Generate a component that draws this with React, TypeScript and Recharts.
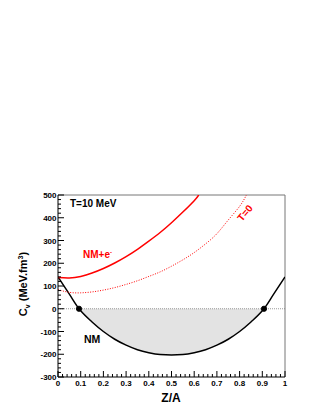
import React from 'react';
import {
  ComposedChart,
  Line,
  Area,
  XAxis,
  YAxis,
  ReferenceLine,
  ReferenceDot,
} from 'recharts';

// Z/A grid for the nuclear-matter curve (roots included)
const nmX = [0, 0.05, 0.0925, 0.1, 0.15, 0.2, 0.25, 0.3, 0.35, 0.4, 0.45, 0.5, 0.55, 0.6, 0.65, 0.7, 0.75, 0.8, 0.85, 0.9, 0.9075, 0.95, 1];
const nmY = [140, 64, 0, -9, -58, -100, -134, -160, -180, -193, -201, -203, -201, -193, -180, -160, -134, -100, -58, -9, 0, 64, 140];

// NM + electrons, T=10 MeV (solid red)
const eX = [0, 0.05, 0.1, 0.15, 0.2, 0.25, 0.3, 0.35, 0.4, 0.45, 0.5, 0.55, 0.6, 0.62];
const eY = [137, 135, 142, 157, 177, 201, 229, 261, 297, 335, 378, 425, 475, 500];

// NM + electrons, T=0 (dotted red)
const t0X = [0, 0.05, 0.1, 0.15, 0.2, 0.25, 0.3, 0.35, 0.4, 0.45, 0.5, 0.55, 0.6, 0.65, 0.7, 0.75, 0.8, 0.83];
const t0Y = [84, 72, 70, 74, 82, 93, 107, 123, 142, 162, 187, 215, 247, 285, 330, 390, 450, 500];

const roots = [0.0925, 0.9075];

const xMajor = [0, 0.1, 0.2, 0.3, 0.4, 0.5, 0.6, 0.7, 0.8, 0.9, 1];
const yMajor = [-300, -200, -100, 0, 100, 200, 300, 400, 500];

const xTicks = Array.from({ length: 51 }, (_, i) => i / 50);
const yTicks = Array.from({ length: 41 }, (_, i) => -300 + i * 20);

const FONT = '"Liberation Sans", Arial, Helvetica, sans-serif';

const nmData = nmX.map((x, i) => ({ x, nm: nmY[i], shade: Math.min(nmY[i], 0) }));
const eData = eX.map((x, i) => ({ x, v: eY[i] }));
const t0Data = t0X.map((x, i) => ({ x, v: t0Y[i] }));

const isMajorX = (v: number) => xMajor.some((m) => Math.abs(m - v) < 1e-6);

const XTick = (props: any) => {
  const { x, y, payload } = props;
  const major = isMajorX(payload.value);
  return (
    <g>
      <line x1={x} x2={x} y1={y} y2={y - (major ? 6 : 3)} stroke="#000" strokeWidth={1} />
      {major && (
        <text x={x} y={y + 9} textAnchor="middle" fontSize={8} fontWeight="bold" fontFamily={FONT} fill="#000">
          {Number(payload.value.toFixed(1)).toString()}
        </text>
      )}
    </g>
  );
};

const YTick = (props: any) => {
  const { x, y, payload } = props;
  const major = yMajor.includes(payload.value);
  return (
    <g>
      <line x1={x} x2={x + (major ? 6 : 3)} y1={y} y2={y} stroke="#000" strokeWidth={1} />
      {major && (
        <text x={x - 1.5} y={y + 3} textAnchor="end" fontSize={8} fontWeight="bold" fontFamily={FONT} fill="#000">
          {payload.value}
        </text>
      )}
    </g>
  );
};

export default function App() {
  return (
    <div style={{ position: 'absolute', left: 0, top: 0, width: 316, height: 409, background: '#fff' }}>
      <ComposedChart
        width={316}
        height={409}
        data={nmData}
        margin={{ top: 195, right: 31, bottom: 0, left: 0 }}
      >
        <XAxis
          dataKey="x"
          type="number"
          domain={[0, 1]}
          ticks={xTicks}
          interval={0}
          tickSize={0}
          tickMargin={0}
          tickLine={false}
          tick={<XTick />}
          axisLine={{ stroke: '#000', strokeWidth: 1 }}
          height={32}
          allowDataOverflow
        />
        <YAxis
          type="number"
          domain={[-300, 500]}
          ticks={yTicks}
          interval={0}
          tickSize={0}
          tickMargin={0}
          tickLine={false}
          tick={<YTick />}
          axisLine={{ stroke: '#000', strokeWidth: 1 }}
          width={58}
          allowDataOverflow
        />
        <Area
          dataKey="shade"
          type="monotone"
          baseValue={0}
          fill="#e3e3e3"
          fillOpacity={1}
          stroke="none"
          isAnimationActive={false}
        />
        <ReferenceLine y={0} stroke="#999" strokeDasharray="1 1" strokeWidth={1} />
        <ReferenceLine y={500} stroke="#777" strokeWidth={1} />
        <ReferenceLine x={1} stroke="#777" strokeWidth={1} />
        <Line
          dataKey="nm"
          type="monotone"
          stroke="#000"
          strokeWidth={1.5}
          dot={false}
          isAnimationActive={false}
        />
        <Line
          data={eData}
          dataKey="v"
          type="natural"
          stroke="#ff0000"
          strokeWidth={1.5}
          dot={false}
          isAnimationActive={false}
        />
        <Line
          data={t0Data}
          dataKey="v"
          type="natural"
          stroke="#ff0000"
          strokeWidth={1}
          strokeDasharray="1 1.5"
          dot={false}
          isAnimationActive={false}
        />
        {roots.map((r) => (
          <ReferenceDot key={r} x={r} y={0} r={2.6} fill="#000" stroke="#000" />
        ))}
      </ComposedChart>
      <svg
        width={316}
        height={409}
        style={{ position: 'absolute', left: 0, top: 0, pointerEvents: 'none' }}
        fontFamily={FONT}
        fontWeight="bold"
      >
        <text x={70} y={207} fontSize={10} fill="#000">T=10 MeV</text>
        <text x={83} y={258} fontSize={10} fill="#ff0000">
          NM+e<tspan dy={-4} fontSize={6}>-</tspan>
        </text>
        <text x={84} y={343} fontSize={10.5} fill="#000">NM</text>
        <text x={245} y={216.5} fontSize={10} fill="#ff0000" textAnchor="middle" transform="rotate(-50 245 213)">T=0</text>
        <text x={171} y={402} fontSize={12} textAnchor="middle" fill="#000">Z/A</text>
        <text x={27} y={284} fontSize={11} textAnchor="middle" fill="#000" transform="rotate(-90 27 284)">
          C<tspan dy={3} fontSize={7}>v</tspan>
          <tspan dy={-3}> (MeV.fm</tspan>
          <tspan dy={-4} fontSize={7}>3</tspan>
          <tspan dy={4}>)</tspan>
        </text>
      </svg>
    </div>
  );
}
